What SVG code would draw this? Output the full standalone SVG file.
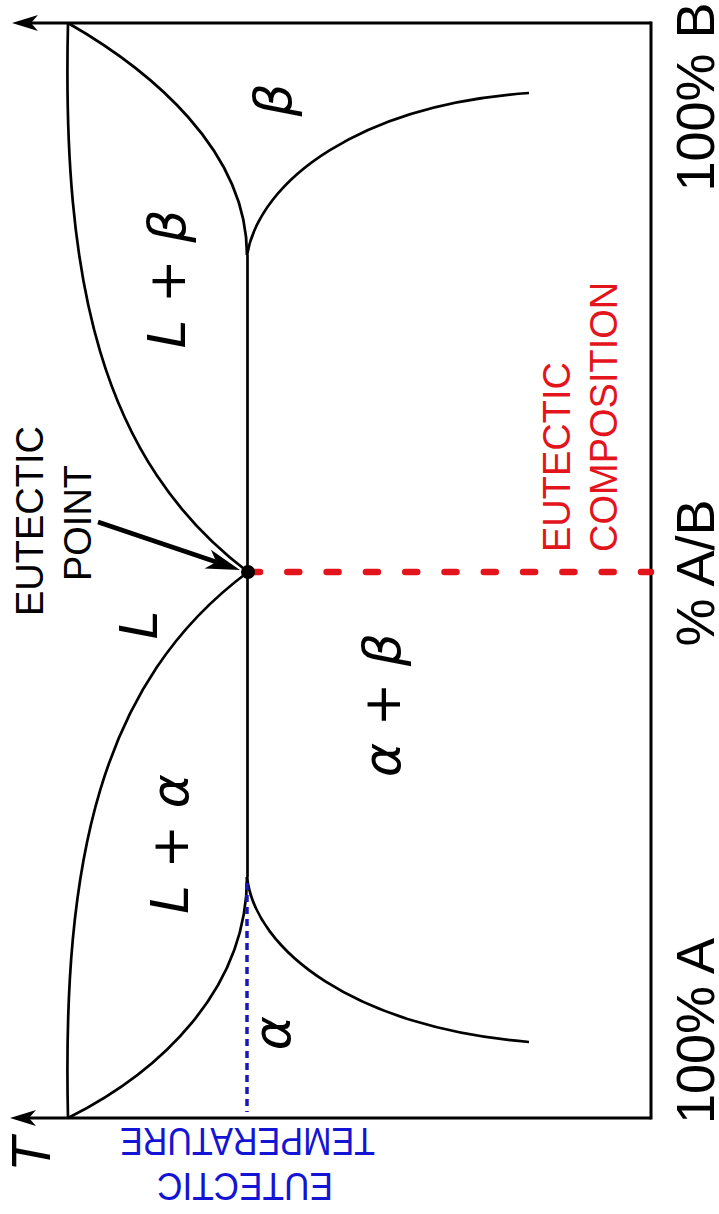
<svg xmlns="http://www.w3.org/2000/svg" width="719" height="1214" viewBox="0 0 719 1214">
<style>
.ax{fill:none;stroke:#000;stroke-width:3}
.cv{fill:none;stroke:#000;stroke-width:2.7}
.sans{font-family:"Liberation Sans",Arial,sans-serif}
.big{font-size:54px;fill:#000}
.ann{font-size:38px}
.lbl{font-family:"DejaVu Sans",sans-serif;font-style:oblique;font-size:52px;fill:#000}
.red{fill:#e3141c}
.blue{fill:#1414d4}
</style>
<defs>
<marker id="axArrow" markerUnits="userSpaceOnUse" viewBox="-28 -10 30 20" markerWidth="30" markerHeight="20" refX="-19" refY="0" orient="auto">
<path d="M0,0 L-26,-8 L-19,0 L-26,8 Z" fill="#000"/>
</marker>
<marker id="ptArrow" markerUnits="userSpaceOnUse" viewBox="-36 -12 38 24" markerWidth="38" markerHeight="24" refX="-25" refY="0" orient="auto">
<path d="M0,0 L-34,-10 L-25,0 L-34,10 Z" fill="#000"/>
</marker>
</defs>
<rect width="719" height="1214" fill="#fff"/>
<g id="connectors">
<path id="axis-top" class="ax" d="M651,23 L31,23" marker-end="url(#axArrow)"/>
<path id="axis-bottom" class="ax" d="M651,1118 L29,1118" marker-end="url(#axArrow)"/>
<path id="axis-right" class="ax" d="M651,21.5 L651,1119.5"/>
<path id="liquidus-b" class="cv" d="M68,23 C62,280 100,460 248,572"/>
<path id="liquidus-a" class="cv" d="M68,1118 C62,861 100,682 248,572"/>
<path id="solidus-b" class="cv" d="M68,23 C150,70 247,150 247,255"/>
<path id="solidus-a" class="cv" d="M68,1118 C160,1072 247,990 247,877"/>
<path id="solvus-b" class="cv" d="M247,255 C260,180 360,105 529,93"/>
<path id="solvus-a" class="cv" d="M247,877 C255,950 355,1028 529,1042"/>
<path id="eutectic-line" class="cv" d="M247.5,255 L247.5,877"/>
<path id="eutectic-temp" d="M247,883 L247,1112" stroke="#1818b0" stroke-width="3.5" stroke-dasharray="7 5" fill="none"/>
<path id="eutectic-comp" d="M248,572 L651,572" stroke="#e3141c" stroke-width="6.5" stroke-linecap="round" stroke-dasharray="12 27.3" fill="none"/>
<path id="point-arrow" d="M98,522 L216.3,562" stroke="#000" stroke-width="4.5" fill="none" marker-end="url(#ptArrow)"/>
</g>
<g id="eutectic-point">
<circle cx="248" cy="572" r="7" fill="#000"/>
</g>
<g id="axis-labels">
<text class="sans big" x="714" y="97" text-anchor="middle" transform="rotate(-90 714 97)">100% B</text>
<text class="sans big" x="714" y="573" text-anchor="middle" transform="rotate(-90 714 573)">% A/B</text>
<text class="sans big" x="714" y="1031" text-anchor="middle" transform="rotate(-90 714 1031)">100% A</text>
<text class="lbl" x="50" y="1153" text-anchor="middle" transform="rotate(-90 50 1153)">T</text>
</g>
<g id="phase-labels">
<text class="lbl" x="291" y="100" text-anchor="middle" transform="rotate(-90 291 100)">β</text>
<text class="lbl" x="185" y="279" text-anchor="middle" transform="rotate(-90 185 279)">L + β</text>
<text class="lbl" x="157" y="625" text-anchor="middle" transform="rotate(-90 157 625)">L</text>
<text class="lbl" x="188" y="844" text-anchor="middle" transform="rotate(-90 188 844)">L + α</text>
<text class="lbl" x="400" y="705" text-anchor="middle" transform="rotate(-90 400 705)">α + β</text>
<text class="lbl" x="290" y="1033" text-anchor="middle" transform="rotate(-90 290 1033)">α</text>
</g>
<g id="label-eutectic-point">
<text class="sans ann" x="43" y="521" text-anchor="middle" transform="rotate(-90 43 521)">EUTECTIC</text>
<text class="sans ann" x="91" y="523" text-anchor="middle" transform="rotate(-90 91 523)">POINT</text>
</g>
<g id="label-eutectic-composition">
<text class="sans ann red" x="570" y="552" transform="rotate(-90 570 552)">EUTECTIC</text>
<text class="sans ann red" x="617" y="552" transform="rotate(-90 617 552)">COMPOSITION</text>
</g>
<g id="label-eutectic-temperature">
<text class="sans ann blue" x="247.5" y="1128" text-anchor="middle" textLength="255" lengthAdjust="spacingAndGlyphs" transform="rotate(180 247.5 1128)">TEMPERATURE</text>
<text class="sans ann blue" x="245" y="1173" text-anchor="middle" textLength="176" lengthAdjust="spacingAndGlyphs" transform="rotate(180 245 1173)">EUTECTIC</text>
</g>
</svg>
